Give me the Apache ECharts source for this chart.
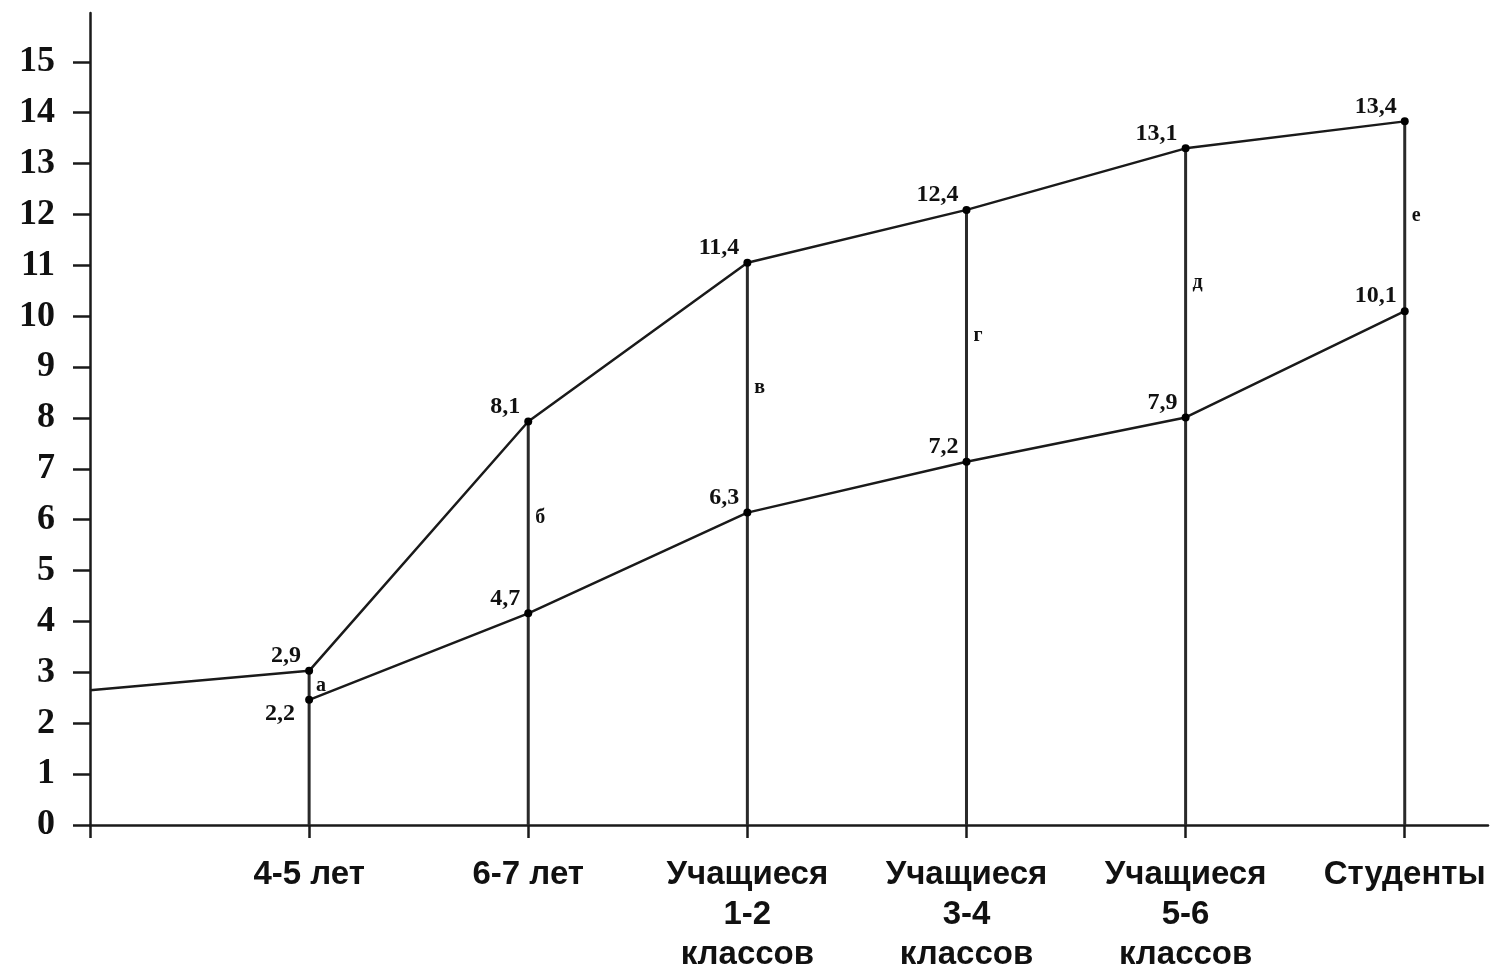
<!DOCTYPE html>
<html>
<head>
<meta charset="utf-8">
<script src="https://cdn.jsdelivr.net/npm/echarts@6/dist/echarts.min.js"></script>
<style>
html,body{margin:0;padding:0;background:#fff;}
#chart{width:1496px;height:969px;}
</style>
</head>
<body>
<div id="chart"></div>
<script>
// ---- data ----
const categories = ['', '4-5 лет', '6-7 лет', 'Учащиеся\n1-2\nклассов', 'Учащиеся\n3-4\nклассов', 'Учащиеся\n5-6\nклассов', 'Студенты'];
const upperValues = [2.65, 3.03, 7.93, 11.05, 12.09, 13.30, 13.83];
const upperLabels = ['', '2,9', '8,1', '11,4', '12,4', '13,1', '13,4'];
const lowerValues = [null, 2.46, 4.16, 6.14, 7.14, 8.01, 10.10];
const lowerLabels = ['', '2,2', '4,7', '6,3', '7,2', '7,9', '10,1'];
const segmentLetters = ['', 'а', 'б', 'в', 'г', 'д', 'е'];
const yTickValues = [0,1,2,3,4,5,6,7,8,9,10,11,12,13,14,15];
const xTickValues = [0,1,2,3,4,5,6];
const xLabelValues = [1,2,3,4,5,6];

// ---- build ----
const serif = '"Liberation Serif", "Times New Roman", serif';
const sans = '"Liberation Sans", Arial, sans-serif';
const ink = '#1a1a1a';

const upperData = upperValues.map((v, i) => {
  const item = { value: [i, v] };
  if (!upperLabels[i]) { item.symbol = 'none'; item.label = { show: false }; }
  return item;
});
const lowerData = [];
lowerValues.forEach((v, i) => {
  if (v == null) return;
  const item = { value: [i, v] };
  if (i === 1) item.label = { offset: [-6, 14] };
  lowerData.push(item);
});
const segData = [];
for (let i = 1; i < categories.length; i++) {
  segData.push([i, upperValues[i], lowerValues[i], segmentLetters[i]]);
}

const dataLabel = {
  show: true,
  position: 'left',
  distance: 4,
  offset: [0, -15],
  fontFamily: serif,
  fontWeight: 'bold',
  fontSize: 24,
  color: '#111'
};

const chart = echarts.init(document.getElementById('chart'), null, { renderer: 'canvas' });
chart.setOption({
  backgroundColor: '#ffffff',
  animation: false,
  grid: { left: 90, right: 8, top: 13, bottom: 144, containLabel: false, outerBoundsMode: 'none' },
  xAxis: {
    type: 'value',
    min: 0,
    max: 6.38,
    interval: 1,
    splitLine: { show: false },
    axisLine: { show: true, onZero: true, lineStyle: { color: ink, width: 2.5 } },
    axisTick: { show: true, customValues: xTickValues, length: 13, lineStyle: { color: ink, width: 2.5 } },
    axisLabel: {
      customValues: xLabelValues,
      formatter: v => categories[Math.round(v)] || '',
      margin: 30,
      fontFamily: sans,
      fontWeight: 'bold',
      fontSize: 33,
      lineHeight: 40,
      color: '#111',
      align: 'center',
      verticalAlign: 'top'
    }
  },
  yAxis: {
    type: 'value',
    min: 0,
    max: 15.96,
    interval: 1,
    splitLine: { show: false },
    axisLine: { show: true, lineStyle: { color: ink, width: 2.5 } },
    axisTick: { show: true, customValues: yTickValues, length: 17, lineStyle: { color: ink, width: 2.5 } },
    axisLabel: {
      customValues: yTickValues,
      margin: 35,
      fontFamily: serif,
      fontWeight: 'bold',
      fontSize: 36,
      color: '#111'
    }
  },
  series: [
    {
      type: 'custom',
      name: 'segments',
      z: 1,
      data: segData,
      renderItem: function (params, api) {
        const x = api.value(0);
        const up = api.value(1);
        const lo = api.value(2);
        const p0 = api.coord([x, 0]);
        const p1 = api.coord([x, up]);
        const pm = api.coord([x, (up + lo) / 2]);
        return {
          type: 'group',
          children: [
            { type: 'line', shape: { x1: p0[0], y1: p0[1], x2: p1[0], y2: p1[1] },
              style: { stroke: '#2a2a2a', lineWidth: 3 } },
            { type: 'text', x: pm[0] + 7, y: pm[1],
              style: { text: segmentLetters[Math.round(x)], fill: '#111', font: 'bold 20px ' + serif,
                       align: 'left', verticalAlign: 'middle' } }
          ]
        };
      }
    },
    {
      type: 'line',
      name: 'upper',
      z: 3,
      data: upperData,
      symbol: 'circle',
      symbolSize: 8,
      showAllSymbol: true,
      lineStyle: { color: ink, width: 2.5 },
      itemStyle: { color: '#000' },
      label: Object.assign({}, dataLabel, { formatter: p => upperLabels[p.value[0]] })
    },
    {
      type: 'line',
      name: 'lower',
      z: 3,
      data: lowerData,
      symbol: 'circle',
      symbolSize: 8,
      showAllSymbol: true,
      lineStyle: { color: ink, width: 2.5 },
      itemStyle: { color: '#000' },
      label: Object.assign({}, dataLabel, { formatter: p => lowerLabels[p.value[0]] })
    }
  ]
});
</script>
</body>
</html>
